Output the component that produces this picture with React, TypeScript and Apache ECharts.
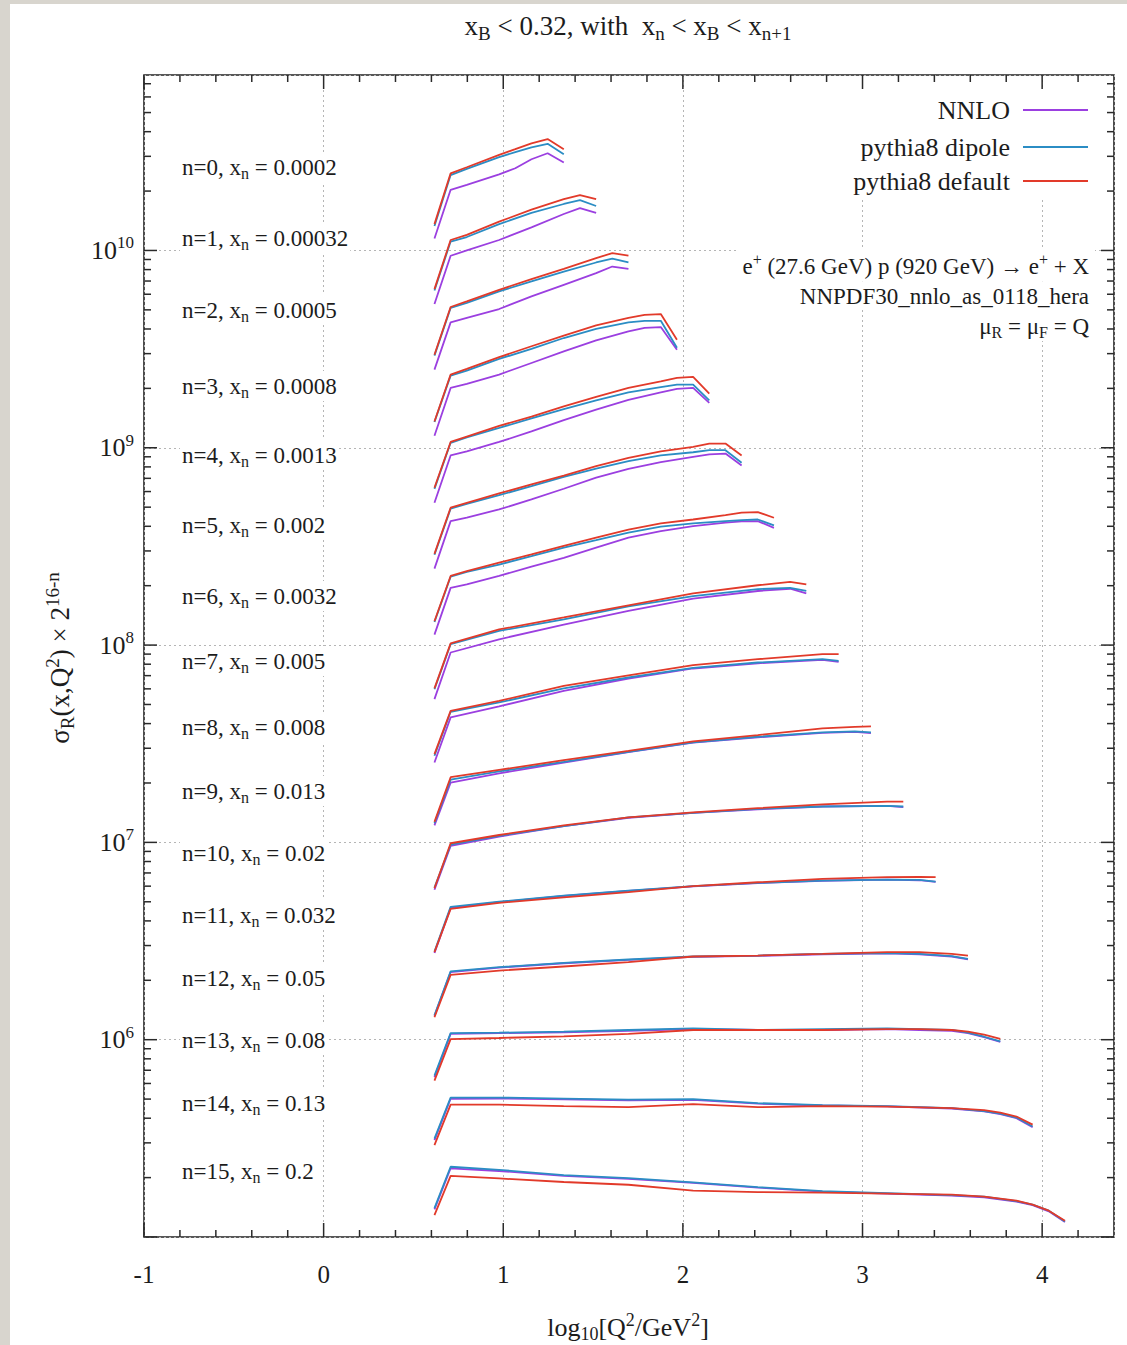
import React, { useEffect, useRef } from 'react';
import * as echarts from 'echarts';

// log10(Q^2/GeV^2) bin centres
const BIN_CENTERS = [
  0.617, 0.707, 0.797, 0.887, 0.977, 1.067, 1.157, 1.247, 1.337, 1.427,
  1.517, 1.607, 1.697, 1.787, 1.877, 1.967, 2.057, 2.147, 2.237, 2.327,
  2.417, 2.507, 2.597, 2.687, 2.777, 2.867, 2.957, 3.047, 3.137, 3.227,
  3.317, 3.407, 3.497, 3.587, 3.677, 3.767, 3.857, 3.947, 4.037, 4.127,
];

const XN_LABELS = [
  '0.0002', '0.00032', '0.0005', '0.0008', '0.0013', '0.002', '0.0032', '0.005',
  '0.008', '0.013', '0.02', '0.032', '0.05', '0.08', '0.13', '0.2',
];

// indices into BIN_CENTERS read for each n
const BINS = [
  [0, 1, 2, 4, 5, 6, 7, 8],
  [0, 1, 2, 4, 6, 8, 9, 10],
  [0, 1, 2, 4, 6, 8, 10, 11, 12],
  [0, 1, 2, 4, 6, 8, 10, 12, 13, 14, 15],
  [0, 1, 2, 4, 6, 8, 10, 12, 14, 15, 16, 17],
  [0, 1, 2, 4, 6, 8, 10, 12, 14, 16, 17, 18, 19],
  [0, 1, 2, 4, 6, 8, 10, 12, 14, 16, 18, 19, 20, 21],
  [0, 1, 4, 8, 12, 16, 20, 22, 23],
  [0, 1, 4, 8, 12, 16, 20, 24, 25],
  [0, 1, 4, 8, 12, 16, 20, 24, 26, 27],
  [0, 1, 4, 8, 12, 16, 20, 24, 28, 29],
  [0, 1, 4, 8, 12, 16, 20, 24, 28, 30, 31],
  [0, 1, 4, 8, 12, 16, 20, 24, 28, 30, 32, 33],
  [0, 1, 4, 8, 12, 16, 20, 24, 28, 30, 32, 33, 34, 35],
  [0, 1, 4, 8, 12, 16, 20, 24, 28, 32, 34, 35, 36, 37],
  [0, 1, 4, 8, 12, 16, 20, 24, 28, 32, 34, 36, 37, 38, 39],
];

const NNLO = [
  [1.15e10, 2.03e10, 2.15e10, 2.43e10, 2.61e10, 2.9e10, 3.11e10, 2.79e10],
  [5.35e9, 9.4e9, 1.0e10, 1.13e10, 1.31e10, 1.53e10, 1.64e10, 1.55e10],
  [2.49e9, 4.32e9, 4.55e9, 5.05e9, 5.85e9, 6.7e9, 7.67e9, 8.29e9, 8.07e9],
  [1.15e9, 2.01e9, 2.11e9, 2.35e9, 2.69e9, 3.08e9, 3.5e9, 3.89e9, 4.05e9, 4.09e9, 3.14e9],
  [5.26e8, 9.14e8, 9.59e8, 1.07e9, 1.21e9, 1.38e9, 1.56e9, 1.75e9, 1.91e9, 1.99e9, 2.01e9, 1.69e9],
  [2.44e8, 4.25e8, 4.42e8, 4.87e8, 5.47e8, 6.2e8, 7.05e8, 7.82e8, 8.45e8, 9.0e8, 9.25e8, 9.35e8, 8.13e8],
  [1.13e8, 1.95e8, 2.03e8, 2.24e8, 2.5e8, 2.77e8, 3.12e8, 3.5e8, 3.78e8, 4.01e8, 4.17e8, 4.24e8, 4.25e8, 3.93e8],
  [5.32e7, 9.17e7, 1.07e8, 1.27e8, 1.49e8, 1.72e8, 1.88e8, 1.93e8, 1.83e8],
  [2.54e7, 4.3e7, 4.89e7, 5.86e7, 6.77e7, 7.61e7, 8.09e7, 8.41e7, 8.22e7],
  [1.22e7, 2.01e7, 2.24e7, 2.54e7, 2.87e7, 3.2e7, 3.41e7, 3.59e7, 3.63e7, 3.58e7],
  [5.75e6, 9.6e6, 1.07e7, 1.21e7, 1.33e7, 1.41e7, 1.47e7, 1.52e7, 1.53e7, 1.51e7],
  [2.75e6, 4.65e6, 4.98e6, 5.35e6, 5.68e6, 5.99e6, 6.22e6, 6.39e6, 6.47e6, 6.43e6, 6.3e6],
  [1.32e6, 2.2e6, 2.32e6, 2.44e6, 2.54e6, 2.63e6, 2.66e6, 2.71e6, 2.74e6, 2.71e6, 2.64e6, 2.55e6],
  [6.45e5, 1.07e6, 1.08e6, 1.09e6, 1.11e6, 1.13e6, 1.12e6, 1.12e6, 1.13e6, 1.12e6, 1.11e6, 1.08e6, 1.03e6, 9.75e5],
  [3.1e5, 5.02e5, 5.03e5, 4.99e5, 4.93e5, 4.95e5, 4.74e5, 4.64e5, 4.59e5, 4.48e5, 4.33e5, 4.2e5, 4.0e5, 3.6e5],
  [1.38e5, 2.23e5, 2.16e5, 2.04e5, 1.97e5, 1.88e5, 1.78e5, 1.7e5, 1.66e5, 1.62e5, 1.59e5, 1.51e5, 1.45e5, 1.35e5, 1.19e5],
];

const DIPOLE = [
  [1.33e10, 2.41e10, 2.59e10, 2.97e10, 3.15e10, 3.33e10, 3.47e10, 3.07e10],
  [6.27e9, 1.11e10, 1.17e10, 1.36e10, 1.55e10, 1.72e10, 1.8e10, 1.68e10],
  [2.93e9, 5.11e9, 5.43e9, 6.2e9, 6.97e9, 7.82e9, 8.69e9, 9.08e9, 8.69e9],
  [1.35e9, 2.32e9, 2.46e9, 2.82e9, 3.17e9, 3.6e9, 4.0e9, 4.32e9, 4.4e9, 4.4e9, 3.21e9],
  [6.19e8, 1.06e9, 1.13e9, 1.26e9, 1.41e9, 1.57e9, 1.74e9, 1.91e9, 2.03e9, 2.09e9, 2.09e9, 1.74e9],
  [2.87e8, 4.91e8, 5.19e8, 5.75e8, 6.39e8, 7.12e8, 7.85e8, 8.55e8, 9.14e8, 9.49e8, 9.72e8, 9.72e8, 8.39e8],
  [1.31e8, 2.22e8, 2.35e8, 2.56e8, 2.82e8, 3.12e8, 3.4e8, 3.71e8, 3.98e8, 4.14e8, 4.25e8, 4.3e8, 4.33e8, 4.04e8],
  [5.97e7, 1.01e8, 1.18e8, 1.35e8, 1.57e8, 1.77e8, 1.92e8, 1.95e8, 1.88e8],
  [2.75e7, 4.59e7, 5.12e7, 6.03e7, 6.85e7, 7.66e7, 8.16e7, 8.48e7, 8.31e7],
  [1.25e7, 2.08e7, 2.29e7, 2.56e7, 2.88e7, 3.21e7, 3.43e7, 3.61e7, 3.65e7, 3.61e7],
  [5.9e6, 9.73e6, 1.08e7, 1.21e7, 1.34e7, 1.41e7, 1.48e7, 1.52e7, 1.53e7, 1.52e7],
  [2.8e6, 4.71e6, 5.01e6, 5.37e6, 5.7e6, 6.0e6, 6.23e6, 6.4e6, 6.48e6, 6.45e6, 6.33e6],
  [1.33e6, 2.22e6, 2.33e6, 2.45e6, 2.55e6, 2.64e6, 2.67e6, 2.72e6, 2.75e6, 2.72e6, 2.65e6, 2.57e6],
  [6.57e5, 1.08e6, 1.085e6, 1.1e6, 1.12e6, 1.14e6, 1.12e6, 1.13e6, 1.14e6, 1.13e6, 1.12e6, 1.085e6, 1.035e6, 9.8e5],
  [3.15e5, 5.09e5, 5.09e5, 5.03e5, 4.97e5, 5.0e5, 4.77e5, 4.66e5, 4.61e5, 4.5e5, 4.35e5, 4.22e5, 4.03e5, 3.63e5],
  [1.4e5, 2.27e5, 2.19e5, 2.06e5, 1.99e5, 1.89e5, 1.79e5, 1.71e5, 1.67e5, 1.63e5, 1.6e5, 1.52e5, 1.46e5, 1.36e5, 1.2e5],
];

const DEFAULT = [
  [1.36e10, 2.46e10, 2.64e10, 3.05e10, 3.26e10, 3.49e10, 3.67e10, 3.26e10],
  [6.37e9, 1.13e10, 1.2e10, 1.4e10, 1.61e10, 1.82e10, 1.91e10, 1.82e10],
  [2.96e9, 5.17e9, 5.52e9, 6.32e9, 7.16e9, 8.07e9, 9.14e9, 9.7e9, 9.42e9],
  [1.36e9, 2.35e9, 2.51e9, 2.88e9, 3.27e9, 3.7e9, 4.17e9, 4.55e9, 4.72e9, 4.76e9, 3.53e9],
  [6.27e8, 1.07e9, 1.14e9, 1.29e9, 1.44e9, 1.62e9, 1.81e9, 2.01e9, 2.17e9, 2.26e9, 2.29e9, 1.88e9],
  [2.9e8, 4.97e8, 5.26e8, 5.87e8, 6.52e8, 7.23e8, 8.07e8, 8.89e8, 9.6e8, 1.01e9, 1.05e9, 1.05e9, 9.14e8],
  [1.32e8, 2.24e8, 2.37e8, 2.62e8, 2.88e8, 3.18e8, 3.5e8, 3.85e8, 4.14e8, 4.33e8, 4.56e8, 4.69e8, 4.72e8, 4.42e8],
  [6.03e7, 1.02e8, 1.2e8, 1.38e8, 1.59e8, 1.83e8, 2.01e8, 2.09e8, 2.03e8],
  [2.8e7, 4.64e7, 5.21e7, 6.21e7, 7.03e7, 7.91e7, 8.48e7, 8.99e7, 8.99e7],
  [1.27e7, 2.14e7, 2.33e7, 2.61e7, 2.91e7, 3.25e7, 3.5e7, 3.78e7, 3.85e7, 3.87e7],
  [5.86e6, 9.9e6, 1.09e7, 1.22e7, 1.34e7, 1.42e7, 1.49e7, 1.56e7, 1.61e7, 1.61e7],
  [2.78e6, 4.6e6, 4.94e6, 5.27e6, 5.59e6, 6.0e6, 6.28e6, 6.53e6, 6.66e6, 6.68e6, 6.66e6],
  [1.3e6, 2.13e6, 2.24e6, 2.35e6, 2.47e6, 2.64e6, 2.67e6, 2.72e6, 2.78e6, 2.78e6, 2.72e6, 2.67e6],
  [6.2e5, 1.006e6, 1.02e6, 1.04e6, 1.07e6, 1.12e6, 1.12e6, 1.12e6, 1.13e6, 1.13e6, 1.12e6, 1.1e6, 1.06e6, 1.01e6],
  [2.92e5, 4.69e5, 4.69e5, 4.61e5, 4.55e5, 4.72e5, 4.55e5, 4.61e5, 4.58e5, 4.5e5, 4.4e5, 4.27e5, 4.08e5, 3.71e5],
  [1.29e5, 2.04e5, 1.98e5, 1.9e5, 1.84e5, 1.72e5, 1.69e5, 1.68e5, 1.66e5, 1.64e5, 1.6e5, 1.53e5, 1.46e5, 1.36e5, 1.21e5],
];

const MODEL_NAMES = ['NNLO', 'pythia8 dipole', 'pythia8 default'];
const X_MAJOR_TICKS = [-1, 0, 1, 2, 3, 4];
const X_MINOR_TICKS = [
  -0.8, -0.6, -0.4, -0.2, 0.2, 0.4, 0.6, 0.8, 1.2, 1.4, 1.6, 1.8,
  2.2, 2.4, 2.6, 2.8, 3.2, 3.4, 3.6, 3.8, 4.2,
];
const Y_DECADES = [1e5, 1e6, 1e7, 1e8, 1e9, 1e10];
const Y_MINOR_FACTORS = [2, 3, 4, 5, 6, 7, 8, 9];

// ---- style / layout ----
const X_MIN = -1;
const X_MAX = 4.4;
const Y_MIN = 1e5;
const Y_MAX = 7.75e10;
const COLORS = ['#9b3fe0', '#2b8dc4', '#e23a2a'];
const SERIF = '"Liberation Serif", "DejaVu Serif", "Times New Roman", serif';
const INK = '#1c1c1c';
const LABEL_Y = [163, 234, 306, 382, 451, 521, 592, 657, 723, 787, 849, 911, 974, 1036, 1099, 1167];

function rich(size: number) {
  const s = Math.round(size * 0.7);
  return {
    sub: { fontSize: s, fontFamily: SERIF, fill: INK, color: INK, padding: [Math.round(size * 0.5), 0, 0, 0] },
    sup: { fontSize: s, fontFamily: SERIF, fill: INK, color: INK, padding: [0, 0, Math.round(size * 0.55), 0] },
  };
}

function textEl(x: number, y: number, text: string, size: number, align: string, extra: any = {}) {
  return {
    type: 'text',
    x,
    y,
    z: 50,
    silent: true,
    style: {
      text,
      fontSize: size,
      fontFamily: SERIF,
      fill: INK,
      align,
      verticalAlign: 'middle',
      rich: rich(size),
      ...extra,
    },
  };
}

export default function App() {
  const ref = useRef<HTMLDivElement>(null);

  useEffect(() => {
    if (!ref.current) return;
    const chart = echarts.init(ref.current, null, { renderer: 'svg' });

    const series: any[] = [];
    const modelValues = [NNLO, DIPOLE, DEFAULT];
    for (let n = 0; n < BINS.length; n++) {
      for (let m = 0; m < 3; m++) {
        series.push({
          type: 'line',
          name: MODEL_NAMES[m],
          data: BINS[n].map((k, i) => [BIN_CENTERS[k], modelValues[m][n][i]]),
          symbol: 'none',
          showSymbol: false,
          silent: true,
          z: 2 + m,
          lineStyle: { color: COLORS[m], width: 1.8 },
          itemStyle: { color: COLORS[m] },
        });
      }
    }

    // tick marks (inward, on all four sides)
    const tickData: number[][] = [];
    Y_DECADES.forEach((d) => {
      tickData.push([X_MIN, d, 0]);
      Y_MINOR_FACTORS.forEach((f) => {
        if (d * f < Y_MAX) tickData.push([X_MIN, d * f, 1]);
      });
    });
    X_MAJOR_TICKS.forEach((v) => tickData.push([v, Y_MIN, 2]));
    X_MINOR_TICKS.forEach((v) => tickData.push([v, Y_MIN, 3]));

    series.push({
      type: 'custom',
      silent: true,
      clip: false,
      z: 6,
      data: tickData,
      renderItem: (params: any, api: any) => {
        const a = api.value(0);
        const b = api.value(1);
        const kind = api.value(2);
        const st = { stroke: '#2a2a2a', lineWidth: 1.5 };
        if (kind < 2) {
          const len = kind === 0 ? 13 : 7;
          const l = api.coord([X_MIN, b]);
          const r = api.coord([X_MAX, b]);
          return {
            type: 'group',
            children: [
              { type: 'line', shape: { x1: l[0], y1: l[1], x2: l[0] + len, y2: l[1] }, style: st },
              { type: 'line', shape: { x1: r[0] - len, y1: r[1], x2: r[0], y2: r[1] }, style: st },
            ],
          };
        }
        const len = kind === 2 ? 14 : 7;
        const bt = api.coord([a, Y_MIN]);
        const tp = api.coord([a, Y_MAX]);
        return {
          type: 'group',
          children: [
            { type: 'line', shape: { x1: bt[0], y1: bt[1], x2: bt[0], y2: bt[1] - len }, style: st },
            { type: 'line', shape: { x1: tp[0], y1: tp[1], x2: tp[0], y2: tp[1] + len }, style: st },
          ],
        };
      },
    });

    const graphics: any[] = [];
    // title
    graphics.push(
      textEl(618, 22, 'x{sub|B} < 0.32, with  x{sub|n} < x{sub|B} < x{sub|n+1}', 27, 'center'),
    );
    // n labels
    LABEL_Y.forEach((y, n) => {
      graphics.push(
        textEl(170, y, `n=${n}, x{sub|n} = ${XN_LABELS[n]}`, 23, 'left', {
          backgroundColor: '#fff',
          padding: [1, 2, 1, 2],
        }),
      );
    });
    // legend box
    graphics.push({
      type: 'rect',
      z: 49,
      silent: true,
      shape: { x: 815, y: 86, width: 280, height: 110 },
      style: { fill: '#fff' },
    });
    const legendY = [106, 143, 177];
    MODEL_NAMES.forEach((name, i) => {
      graphics.push(textEl(1000, legendY[i], name, 26, 'right'));
      graphics.push({
        type: 'line',
        z: 50,
        silent: true,
        shape: { x1: 1013, y1: legendY[i], x2: 1078, y2: legendY[i] },
        style: { stroke: COLORS[i], lineWidth: 1.8 },
      });
    });
    // process info
    const infoStyle = { backgroundColor: '#fff', padding: [3, 6, 1, 4] };
    graphics.push(textEl(1085, 261, 'e{sup|+} (27.6 GeV) p (920 GeV) → e{sup|+} + X', 23, 'right', infoStyle));
    graphics.push(textEl(1085, 291, 'NNPDF30_nnlo_as_0118_hera', 23, 'right', infoStyle));
    graphics.push(textEl(1085, 321, 'μ{sub|R} = μ{sub|F} = Q', 23, 'right', infoStyle));
    // axis titles
    graphics.push(textEl(618, 1323, 'log{sub|10}[Q{sup|2}/GeV{sup|2}]', 26, 'center'));
    graphics.push({
      ...textEl(50, 654, 'σ{sub|R}(x,Q{sup|2}) × 2{sup|16-n}', 27, 'center'),
      rotation: Math.PI / 2,
    });

    const option: any = {
      animation: false,
      backgroundColor: '#ffffff',
      grid: {
        left: 134,
        top: 71,
        width: 970,
        height: 1162,
        show: true,
        borderColor: '#222',
        borderWidth: 1.6,
        backgroundColor: 'transparent',
      },
      xAxis: {
        type: 'value',
        min: X_MIN,
        max: X_MAX,
        interval: 1,
        axisLine: { show: false },
        axisTick: { show: false },
        splitLine: { show: true, lineStyle: { color: '#b5b5b5', type: [2, 3], width: 1 } },
        axisLabel: {
          margin: 25,
          fontSize: 25,
          fontFamily: SERIF,
          color: INK,
          formatter: (v: number) => (Math.abs(v - Math.round(v)) < 1e-9 ? String(Math.round(v)) : ''),
        },
      },
      yAxis: {
        type: 'log',
        logBase: 10,
        min: Y_MIN,
        max: Y_MAX,
        axisLine: { show: false },
        axisTick: { show: false },
        splitLine: { show: true, lineStyle: { color: '#b5b5b5', type: [2, 3], width: 1 } },
        axisLabel: {
          margin: 10,
          fontSize: 26,
          fontFamily: SERIF,
          color: INK,
          formatter: (v: number) => {
            const e = Math.log10(v);
            const r = Math.round(e);
            if (Math.abs(e - r) > 1e-6 || r < 6 || r > 10) return '';
            return `{b|10}{s|${r}}`;
          },
          rich: {
            b: { fontSize: 26, fontFamily: SERIF, color: INK },
            s: { fontSize: 17, fontFamily: SERIF, color: INK, padding: [0, 0, 15, 0] },
          },
        },
      },
      series,
      graphic: { elements: graphics },
    };

    chart.setOption(option);
    return () => chart.dispose();
  }, []);

  return (
    <div
      style={{
        position: 'fixed',
        left: 0,
        top: 0,
        width: 1127,
        height: 1345,
        background: '#d8d5ce',
        overflow: 'hidden',
      }}
    >
      <div
        ref={ref}
        style={{ position: 'absolute', left: 10, top: 4, width: 1117, height: 1341, background: '#fff' }}
      />
    </div>
  );
}
